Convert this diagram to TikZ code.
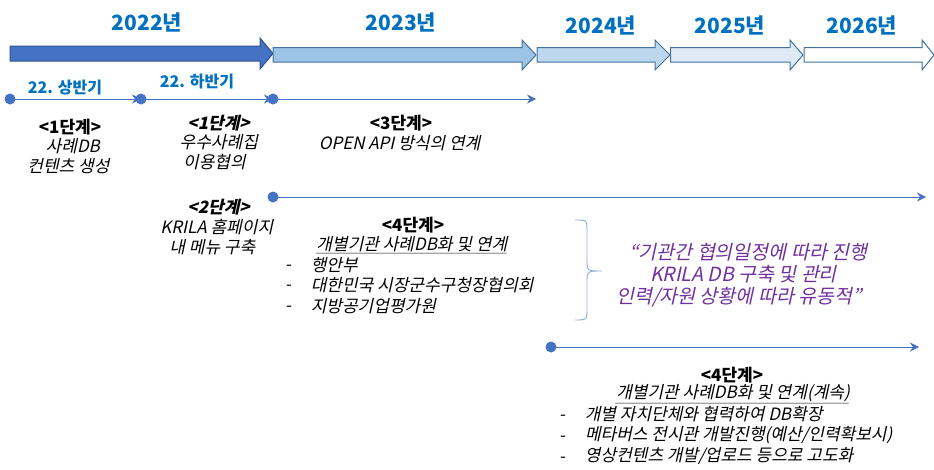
\documentclass[tikz,border=0pt]{standalone}
\usepackage{fontspec}
\setmainfont{Noto Sans CJK KR}
\usetikzlibrary{arrows.meta}
\definecolor{yearblue}{HTML}{0070C0}
\definecolor{arrA}{HTML}{4472C4}
\definecolor{arrAline}{HTML}{2F528F}
\definecolor{arrB}{HTML}{9DC3E6}
\definecolor{arrC}{HTML}{BDD7EE}
\definecolor{arrD}{HTML}{DEEBF7}
\definecolor{arrline}{HTML}{41719C}
\definecolor{tline}{HTML}{4472C4}
\definecolor{bracec}{HTML}{8FAADC}
\definecolor{purp}{HTML}{7030A0}
\tikzset{
  year/.style={font=\fontsize{21}{24}\selectfont\bfseries, text=yearblue, inner sep=0pt},
  half/.style={font=\fontsize{16}{18}\selectfont\bfseries, text=yearblue, inner sep=0pt},
  body/.style={font=\fontsize{17}{20}\selectfont, align=center, inner sep=0pt},
  hd/.style={font=\fontsize{17}{20}\selectfont\bfseries, inner sep=0pt},
  sl/.style={xslant=0.22},
  item/.style={font=\fontsize{17}{19}\selectfont, anchor=west, inner sep=0pt},
  dashc/.style={font=\fontsize{17}{19}\selectfont, inner sep=0pt},
  quote/.style={font=\fontsize{19.5}{22}\selectfont, text=purp, align=center, inner sep=0pt, xslant=0.22},
  dot/.style={circle, fill=tline, minimum size=11pt, inner sep=0pt},
  tl/.style={draw=tline, line width=0.9pt, -{Stealth[length=9pt,width=9pt]}},
  bigarr/.style={line width=1pt, line join=miter},
}
\begin{document}
\begin{tikzpicture}[x=1pt,y=-1pt]
\useasboundingbox (0,0) rectangle (934,469);
% big year arrows
\draw[bigarr, fill=arrA, draw=arrAline] (10,46) -- (260,46) -- (260,38) -- (273,53.5) -- (260,69) -- (260,61) -- (10,61) -- cycle;
\draw[bigarr, fill=arrB, draw=arrline] (273,47.5) -- (522,47.5) -- (522,40) -- (536,55) -- (522,70) -- (522,62) -- (273,62) -- cycle;
\draw[bigarr, fill=arrC, draw=arrline] (537,47.5) -- (655,47.5) -- (655,40) -- (670,55) -- (655,70) -- (655,62) -- (537,62) -- cycle;
\draw[bigarr, fill=arrD, draw=arrline] (670.5,47.5) -- (790,47.5) -- (790,40) -- (803,55) -- (790,70) -- (790,62) -- (670.5,62) -- cycle;
\draw[bigarr, fill=white, draw=arrline] (804,47.5) -- (922,47.5) -- (922,40) -- (934,55) -- (922,70) -- (922,62) -- (804,62) -- cycle;
% year labels
\node[year] (y22) at (147,22) {2022년};
\node[year] (y23) at (401,22) {2023년};
\node[year] (y24) at (601,25) {2024년};
\node[year] (y25) at (730,25) {2025년};
\node[year] (y26) at (862,25) {2026년};
% timeline points
\coordinate (p1) at (10,99);
\coordinate (p2) at (141,99);
\coordinate (p3) at (273,99);
\coordinate (e3) at (536,99);
\coordinate (p4) at (273,197);
\coordinate (e4) at (926,197);
\coordinate (p5) at (551,347);
\coordinate (e5) at (919,347);
\draw[tl] (p1) -- (p2);
\draw[tl] (p2) -- (p3);
\draw[tl] (p3) -- (e3);
\draw[tl] (p4) -- (e4);
\draw[tl] (p5) -- (e5);
\node[dot] (d1) at (p1) {};
\node[dot] (d2) at (p2) {};
\node[dot] (d3) at (p3) {};
\node[dot] (d4) at (p4) {};
\node[dot] (d5) at (p5) {};
\node[half] (h1) at (65,88) {22. 상반기};
\node[half] (h2) at (197,82) {22. 하반기};
% block 1
\node[hd] (b1h) at (70,127) {<1단계>};
\node[body, sl] (b1t) at (72,156) {사례DB\\ 컨텐츠 생성};
% block 2
\node[hd, sl] (b2h) at (220,123) {<1단계>};
\node[body, sl] (b2t) at (218,152) {우수사례집\\ 이용협의};
% block 3
\node[hd, sl] (b3h) at (220,207) {<2단계>};
\node[body, sl] (b3t) at (216,237) {KRILA 홈페이지\\ 내 메뉴 구축};
% 3단계
\node[hd] (b4h) at (401,123) {<3단계>};
\node[body, sl] (b4t) at (401,143) {OPEN API 방식의 연계};
% 4단계
\node[hd] (s4) at (413,225) {<4단계>};
\node[body, sl] (s4u) at (413,245) {\underline{개별기관 사례DB화 및 연계}};
\node[dashc] (i1d) at (289,268) {-};
\node[dashc] (i2d) at (289,288) {-};
\node[dashc] (i3d) at (289,309) {-};
\node[item, sl] (i1) at (312,265) {행안부};
\node[item, sl] (i2) at (312,285) {대한민국 시장군수구청장협의회};
\node[item, sl] (i3) at (312,306) {지방공기업평가원};
% brace
\draw[draw=bracec, line width=0.9pt] (575,220) .. controls (587,220) .. (587,232) -- (587,259) .. controls (587,271) .. (602,271) .. controls (587,271) .. (587,283) -- (587,308) .. controls (587,320) .. (575,320);
\node[quote] (q) at (745,275) {“기관간 협의일정에 따라 진행\\ KRILA DB 구축 및 관리\\ 인력/자원 상황에 따라 유동적”};
% bottom block
\node[hd] (s5) at (732,375) {<4단계>};
\node[body, sl] (s5u) at (734,394) {\underline{개별기관 사례DB화 및 연계(계속)}};
\node[dashc] (j1d) at (563,418) {-};
\node[dashc] (j2d) at (563,439) {-};
\node[dashc] (j3d) at (563,460) {-};
\node[item, sl] (j1) at (586,414) {개별 자치단체와 협력하여 DB확장};
\node[item, sl] (j2) at (586,435) {메타버스 전시관 개발진행(예산/인력확보시)};
\node[item, sl] (j3) at (586,456) {영상컨텐츠 개발/업로드 등으로 고도화};
\end{tikzpicture}
\end{document}
